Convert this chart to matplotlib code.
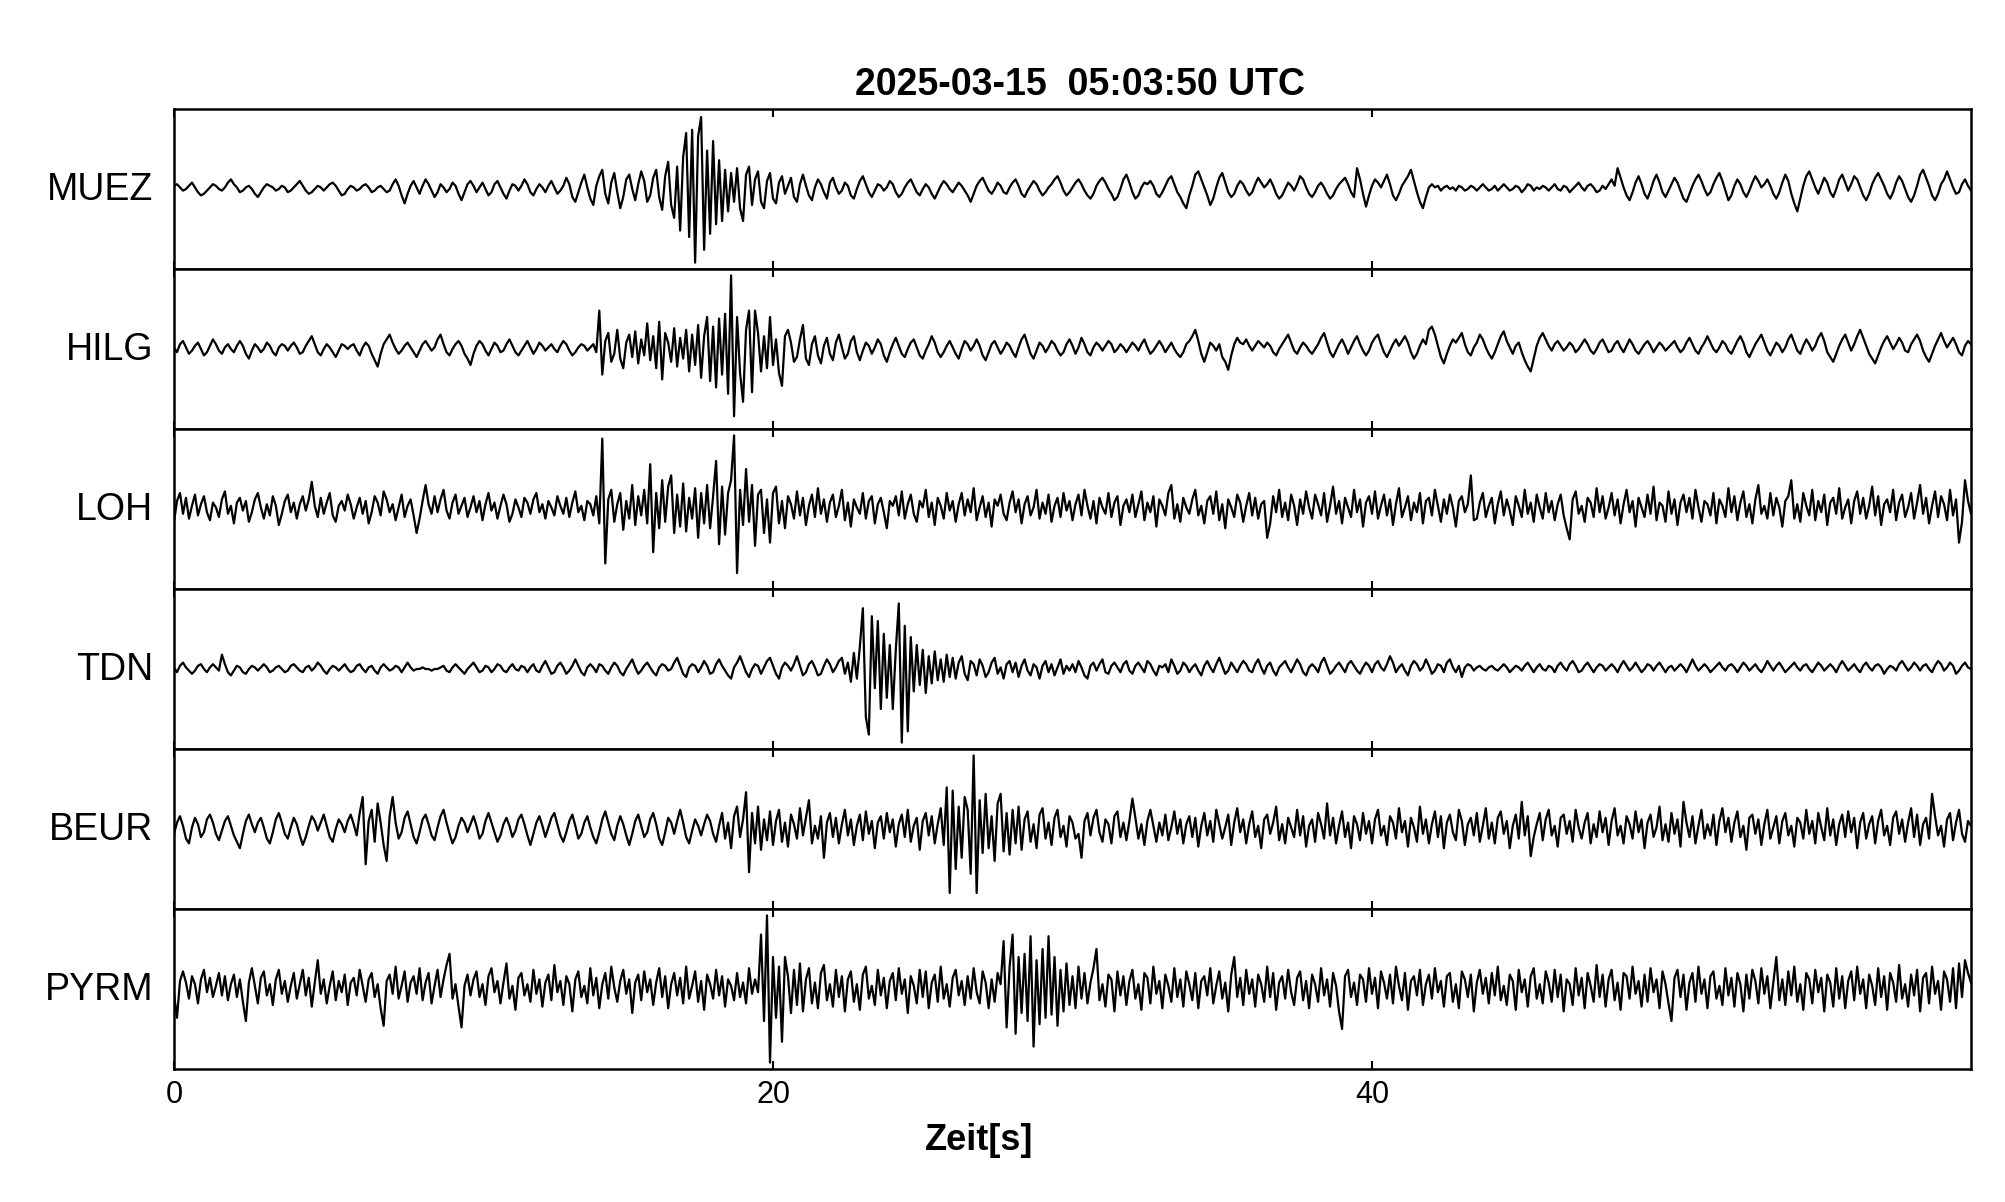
import numpy as np
import matplotlib
matplotlib.use("Agg")
import matplotlib.pyplot as plt

# Seismogram traces, 10 samples per second, amplitude in panel units (+-50 = panel edge)
TITLE = "2025-03-15  05:03:50 UTC"
XLABEL = "Zeit[s]"
T_END = 60.0
XTICKS = [0, 20, 40]

MUEZ = [
    2, 3, 1, -1, 0, 2, 4, 1, -2, -4, -3, -1, 1, 3, 2, 0, -1, 1, 4, 6,
    3, 1, -2, -1, 1, 2, 0, -3, -5, -2, 1, 3, 2, 1, -1, 0, 2, 1, -2, -1,
    1, 3, 5, 2, -1, -3, -2, 0, 2, 1, -1, 1, 3, 4, 2, -1, -4, -3, 0, 2,
    1, -1, 0, 2, 3, 1, -2, -1, 1, 2, 0, -2, -1, 3, 6, 2, -4, -9, -3, 2,
    5, 1, -3, 2, 6, 3, -1, -5, -2, 3, 1, -2, 0, 4, 2, -3, -7, -2, 3, 5,
    2, -2, 1, 4, 0, -4, -2, 3, 5, 1, -3, -6, -1, 3, 2, -1, 2, 6, 3, -2,
    -4, 0, 3, 1, -2, 2, 5, 1, -3, -1, 2, 7, 3, -5, -8, -2, 4, 9, 1, -6,
    -10, 2, 8, 12, -3, -9, 4, 10, -2, -12, -5, 6, 9, 0, -7, 3, 11, 5, -8, -4,
    7, 12, -5, -13, 8, 17, -10, -18, 14, -26, 20, 35, -30, 37, -46, 33, 45, -38, 24, -28,
    30, -22, 18, -20, 12, -14, 10, -8, 13, -12, -20, 9, 14, -10, 6, 11, -8, -12, 5, 10,
    -6, -9, 4, 8, -3, 2, 7, -5, -8, 3, 9, 2, -4, -7, 1, 6, 3, -2, -6, 4,
    7, 1, -3, -1, 4, 2, -4, -6, 0, 5, 8, 3, -2, -5, -1, 3, 2, -1, 1, 5,
    3, -2, -5, -3, 1, 4, 6, 2, -2, -4, 0, 3, 1, -3, -6, -2, 2, 5, 3, 0,
    -2, 1, 4, 2, -1, -4, -8, -3, 2, 5, 7, 3, -1, -3, 0, 4, 2, -2, -3, 1,
    4, 6, 2, -3, -5, -1, 2, 5, 3, -1, -4, -2, 1, 3, 6, 8, 4, -1, -4, -2,
    1, 4, 6, 3, -1, -4, -6, -3, 2, 5, 7, 4, 0, -3, -7, -5, 0, 6, 9, 4,
    -2, -6, -4, 1, 4, 3, 5, 2, -3, -5, -2, 2, 6, 8, 3, -2, -5, -9, -12, -4,
    2, 9, 11, 6, 1, -4, -10, -6, 1, 7, 10, 4, -2, -5, -3, 2, 5, 3, -1, -4,
    -2, 3, 7, 4, 1, 3, 6, 2, -3, -6, -4, 0, 4, 2, -1, 3, 8, 6, 1, -3,
    -5, -2, 2, 4, 1, -3, -6, -4, 0, 3, 5, 7, 3, -2, -5, 13, 6, -3, -11, -4,
    2, 6, 4, 1, 5, 9, 3, -4, -7, -3, 2, 5, 8, 12, 5, -2, -8, -12, -5, 1,
    3, 1, 2, -1, 1, 2, 0, 1, -1, 2, 1, -1, 0, 2, 1, -1, 1, 3, 1, -1,
    0, 2, -1, 1, 3, 1, -1, 0, 2, 1, -2, 0, 3, 2, -1, 1, 0, 2, 1, -1,
    1, 3, 0, -1, 2, 1, -2, 0, 2, 4, 1, -1, 2, 3, 1, -2, -1, 2, 0, 3,
    6, 2, 13, 7, 1, -4, -7, -2, 4, 8, 3, -3, -6, -1, 5, 9, 4, -2, -5, -1,
    3, 7, 4, -1, -6, -8, -3, 2, 6, 9, 5, 0, -4, -2, 3, 7, 10, 5, -1, -7,
    -4, 2, 6, 3, -2, -5, -1, 4, 8, 5, 1, 3, 6, 2, -3, -6, -2, 4, 9, 5,
    -3, -9, -14, -6, 2, 8, 11, 6, 1, -3, 2, 7, 4, -2, -5, 0, 6, 9, 4, -1,
    3, 8, 6, 1, -4, -7, -3, 3, 7, 10, 6, 2, -3, -6, -2, 4, 8, 5, 0, -5,
    -8, -4, 2, 9, 12, 7, 2, -4, -7, -3, 3, 6, 11, 6, 1, -3, -2, 3, 6, 2, -1,
]

HILG = [
    1, -2, 3, 5, 1, -3, -1, 2, 4, 0, -4, -2, 2, 6, 3, -1, -3, 1, 3, 0,
    -2, 2, 5, 2, -3, -6, -1, 3, 1, -2, 0, 4, 2, -2, -4, 1, 3, 2, -1, 2,
    4, 1, -3, -2, 2, 5, 8, 3, -2, -4, 0, 3, 1, -2, -5, -1, 3, 2, 0, 2,
    3, -1, -4, 1, 4, 2, -3, -7, -11, -3, 3, 6, 9, 4, 0, -3, -1, 2, 4, 1,
    -2, -5, -1, 3, 5, 2, -1, 1, 6, 9, 3, -2, -4, 0, 3, 5, 2, -3, -6, -10,
    -3, 2, 5, 3, -1, -4, 0, 4, 2, -2, -1, 3, 6, 2, -2, -4, -1, 2, 5, 1,
    -3, 0, 4, 2, -1, 1, 3, 0, -2, 2, 5, 3, -1, -4, -2, 1, 3, 2, -1, 1,
    3, -2, 24, -16, 5, 10, -8, -3, 12, -6, -12, 4, 9, -5, 11, -9, 6, -4, 16, -7,
    8, -12, 17, -19, 10, 4, -8, 13, -11, 7, -6, 12, -14, 9, -10, 15, -18, 8, 20, -20,
    14, -24, 19, -16, 22, -28, 46, -42, 20, -15, -33, 12, 24, -27, 24, 10, -14, 8, -12, 20,
    -10, 6, -15, -23, 8, 12, 4, -8, -5, 6, 15, -6, -10, 3, 8, -4, -9, 2, 7, -3,
    -7, 4, 9, 1, -6, -3, 5, 8, -2, -7, -1, 4, 2, -3, 1, 6, 3, -4, -8, -2,
    3, 7, 2, -3, -5, 0, 4, 6, 1, -4, -6, -1, 3, 8, 4, -2, -5, -2, 2, 5,
    1, -3, -6, 0, 5, 3, -1, 2, 6, 2, -4, -7, -2, 3, 5, 1, -3, 0, 4, 2,
    -2, -5, 1, 6, 9, 3, -3, -6, -1, 4, 2, -2, 1, 5, 3, -1, -4, -2, 3, 6,
    2, -3, 1, 7, 3, -2, -4, 1, 4, 2, -1, 2, 5, 3, -2, 0, 3, 1, -2, 1,
    4, 2, -1, 3, 6, 1, -3, -1, 2, 5, 2, -2, 1, 4, 0, -3, -5, -2, 3, 5,
    8, 12, 5, -3, -8, -2, 4, 2, -1, 3, -5, -8, -13, -4, 3, 7, 4, 3, 6, 2,
    -1, 2, 5, 3, 1, 4, 2, -2, -4, 0, 3, 6, 9, 4, -1, -3, 1, 4, 2, -1,
    -3, 0, 3, 7, 10, 4, -2, -5, -1, 3, 6, 2, -3, 1, 5, 8, 3, -1, -4, -1,
    4, 7, 9, 3, -2, -5, -1, 3, 6, 2, 5, 8, 4, -2, -6, -3, 2, 6, 3, 12,
    14, 9, 2, -5, -9, -3, 2, 6, 4, 7, 10, 3, -2, -4, 1, 4, 9, 6, 1, -3,
    -6, -2, 3, 8, 11, 5, 1, -3, 2, 4, -2, -7, -11, -14, -6, 2, 7, 10, 6, 2,
    -1, 3, 5, 2, -1, 1, 4, 2, -2, 0, 3, 6, 3, -1, -3, 0, 4, 6, 2, -2,
    -1, 3, 5, 1, -2, 2, 6, 3, -1, -3, 0, 3, 5, 2, -2, 1, 4, 2, -1, 1,
    3, 5, 1, -2, 0, 4, 7, 3, -1, -3, 1, 4, 8, 4, 0, -2, 1, 5, 3, -1,
    -3, 1, 5, 8, 4, -2, -5, -1, 3, 6, 9, 4, -1, -4, 0, 4, 2, -2, 1, 6,
    9, 4, -1, -3, 2, 6, 3, -1, 2, 7, 10, 5, -2, -5, -8, -3, 2, 6, 9, 4,
    -1, 3, 8, 12, 7, 2, -3, -6, -9, -4, 1, 5, 8, 4, 0, 3, 7, 4, -1, -2,
    3, 6, 9, 5, -1, -5, -8, -3, 2, 6, 10, 5, 1, 4, 7, 3, -2, -4, 2, 5, 3,
]

LOH = [
    -8, 5, 10, -3, 7, -6, 2, 9, -4, 3, 8, -2, -7, 4, 1, -5, 6, 11, -3, 2,
    -9, 4, 7, -1, 5, -8, -2, 6, 10, 1, -6, 3, -4, 8, 2, -10, -3, 5, 9, -2,
    4, -6, 3, 8, -1, 6, 17, 2, -5, 7, -3, 4, 10, -4, -8, 2, 5, -1, 9, 3,
    -6, 1, 7, -3, 5, -9, -2, 8, 4, -4, 11, 6, -2, 3, -7, 1, 9, -5, 2, 6,
    -4, -15, -6, 5, 15, 3, -3, 8, -2, 6, 12, -1, -6, 4, 9, -3, 2, 7, -5, 1,
    8, -2, 5, -7, 3, 10, -1, 4, -6, 2, 9, 3, -8, -3, 6, 1, -5, 7, 4, -3,
    6, 10, -2, 3, -6, 5, 1, -4, 8, 2, -3, 7, -5, 4, 11, -2, 2, -7, 5, 3,
    -4, 8, -9, 44, -34, 6, 12, -8, 3, 10, -13, 5, -6, 15, -10, 8, -4, 12, -9, 28,
    -27, 10, -12, 18, -8, 14, 21, -15, 9, -11, 16, -14, 7, -6, 13, -18, 10, -9, 15, -12,
    8, 30, -22, 14, -16, 10, 18, 46, -40, 12, -10, 25, -8, 15, -23, 9, 12, -15, 6, -21,
    10, 14, -9, 5, -12, 8, 3, -6, 11, -4, 7, -10, 2, 9, -5, 13, -3, 6, -8, 4,
    9, -5, 2, 12, -7, 4, -11, 6, 1, -3, 10, -6, 5, 8, -9, 3, 7, -2, -12, 5,
    2, 8, -4, 11, -6, 3, 9, -3, -8, 5, 1, 12, -5, 4, -10, 7, 2, -6, 10, -1,
    5, -8, 3, 10, -4, 6, -2, 13, -7, 1, 8, -5, 4, -11, 6, 2, 9, -3, -7, 4,
    11, -2, 6, -9, 3, 8, -4, 1, 12, -6, 4, -3, 9, -8, 2, 7, -5, 10, -1, 5,
    -7, 3, 9, -4, 12, 2, -6, 5, -9, 7, 1, -3, 10, -5, 4, 8, -10, 2, 6, -2,
    9, -5, 3, 11, -7, 4, -2, 8, -11, 6, 2, -4, 10, 15, -6, 3, -8, 7, 1, -3,
    6, 12, -4, 2, -9, 5, 8, -3, 11, -7, 3, -12, 6, 1, -5, 9, 4, -8, 2, 10,
    -4, 7, -6, 3, 5, -18, -9, 8, -2, 12, -5, 4, -7, 9, 2, -10, 6, -3, 11, 1,
    -6, 9, 3, -4, 10, -8, 2, 14, -3, 5, -9, 7, 1, -5, 12, -2, 6, -11, 4, 8,
    -3, 11, -6, 2, 9, -4, 6, -10, 3, 13, -5, 1, 8, -7, 4, -2, 10, -9, 5, 7,
    -4, 12, 2, -8, 6, -3, 9, 1, -11, 5, 8, -2, 3, 21, -7, -6, 4, 10, -5, 2,
    7, -9, 3, 11, -4, 6, -1, -10, 8, 2, -5, 12, -3, 4, -8, 9, 1, -6, 10, -2,
    5, -7, 3, 9, -4, -12, -19, 6, 11, -3, 2, -8, 7, 4, -5, 13, -2, 8, -6, 1,
    10, -4, 6, -9, 3, 12, -2, 5, -11, 7, 1, -5, 9, -3, 14, -7, 4, 2, -8, 11,
    -3, 6, -10, 4, 9, -2, 7, -6, 12, 1, -8, 5, 3, -4, 10, -9, 6, 2, -5, 13,
    -2, 8, -7, 4, 11, -5, 3, -9, 6, 15, -3, 2, -6, 10, -4, 7, 1, -11, 5, 8,
    18, -6, 3, -8, 10, 2, -4, 12, -7, 5, -2, 9, -10, 4, 7, -3, 13, -6, 1, 6,
    -9, 5, 11, -3, 7, -6, 2, 14, -4, 8, -10, 3, 6, -2, 12, -7, 4, 9, -5, 1,
    10, -6, 4, 15, -3, 7, -9, 2, 11, -5, 8, 3, -7, 12, -4, 6, -21, -8, 18, 5, -3,
]

TDN = [
    1, -2, 2, 4, 1, -1, -3, -1, 2, 3, 0, -2, 1, 3, 1, -1, 9, 3, -2, -4,
    -1, 2, 1, -2, -3, 0, 2, 1, -1, 1, 3, 1, -2, -1, 1, 2, 0, -2, -1, 2,
    3, 1, -1, -2, 1, 2, -1, 1, 4, 2, -1, -3, 0, 2, 1, -1, 1, 3, 0, -2,
    -1, 2, 3, 0, -2, 1, 2, -1, -3, 1, 3, 1, -1, 0, 2, 1, -2, 1, 4, 1,
    -1, 0, 0, 1, 0, 0, -1, 0, 0, 1, 2, -1, -2, 1, 3, 1, -1, -3, 0, 2,
    4, 1, -2, -1, 2, 1, -2, 0, 3, 2, -1, -2, 1, 3, 0, -1, 2, 1, -2, 1,
    3, -1, -2, 2, 5, 1, -3, -2, 2, 4, 1, -3, -1, 2, 6, 2, -2, -4, 1, 3,
    1, -2, 3, 2, -1, -3, 1, 4, 2, -2, -4, 0, 3, 6, 1, -3, -1, 2, 4, 1,
    -2, -4, 1, 3, 2, -1, 0, 4, 7, 2, -3, -5, 1, 3, 2, -2, 1, 5, 2, -3,
    -2, 3, 6, 2, -1, -4, -6, 1, 4, 8, 3, -2, -5, 0, 3, 2, -3, 1, 5, 7,
    2, -3, -6, 1, 4, 2, -1, 3, 8, 2, -4, -2, 3, 5, 1, -4, -3, 2, 6, 3,
    -2, 1, 5, 7, -3, 4, -8, 10, -6, 14, 38, -30, -41, 33, -12, 30, -25, 22, -18, 15,
    -25, 12, 41, -46, 27, -39, 20, -14, 15, -10, 12, -15, 8, -9, 11, -7, 6, -8, 9, -5,
    7, -6, 4, 8, -3, -7, 5, 3, -4, 6, 2, -5, -2, 4, 7, -3, 1, -6, 3, 5,
    -2, 4, -5, 2, 6, -1, -4, 3, 1, -6, 2, 5, -2, 3, -4, 1, 6, -3, 2, -1,
    3, -2, 5, 1, -4, -6, 2, 4, -1, 3, 6, -2, -3, 2, 4, 1, -2, 3, 5, -1,
    -3, 2, 4, 1, -2, 5, 3, -1, -4, 2, 1, 3, -2, 6, 2, -3, -1, 4, 2, -2,
    1, 3, -1, -4, 2, 5, 1, -2, 3, 7, 2, -3, -1, 4, 1, -2, 2, 5, 3, -1,
    -2, 3, 6, 1, -3, 2, 4, -1, -4, 1, 3, 5, 1, -2, 2, 6, 3, -2, -4, 1,
    3, 1, -2, 4, 7, 2, -3, -1, 2, 4, 1, -2, 3, 5, 2, -1, -3, 1, 4, 2,
    -2, 3, 5, 1, -1, 3, 8, 4, -2, 1, 3, -1, -4, 2, 5, 3, -1, 1, 6, 2,
    -3, -1, 3, 2, -2, 4, 6, 1, -2, 2, -5, 1, 3, 2, -1, 1, 2, 0, -1, 1,
    2, 0, -1, 1, 3, 1, -2, 0, 2, 1, -1, 2, 4, 1, -2, 1, 3, 0, -1, 2,
    1, -2, 2, 4, 1, -1, 3, 5, 2, -2, -1, 2, 4, 1, -2, 1, 3, 2, -1, 1,
    3, 1, -2, 2, 5, 2, -1, 1, 4, 1, -2, 0, 3, 2, -1, 2, 4, 1, -2, 1,
    2, -1, 1, 3, 1, -2, 2, 6, 2, -1, 1, 3, 1, -2, 0, 2, 4, 1, -1, 2,
    3, 1, -2, 1, 4, 2, -1, 1, 3, 0, -2, 1, 5, 2, -1, 2, 4, 1, -2, 0,
    2, 4, 1, -1, 2, 3, 0, -2, 1, 4, 2, -1, 1, 3, 1, -2, 2, 5, 2, -1,
    1, 3, 0, -2, 2, 4, 1, -1, 2, 3, 1, -3, 0, 2, 1, -1, 3, 5, 2, -1,
    1, 4, 2, -1, 2, 3, 0, -2, 2, 5, 3, -1, 1, 4, 2, -3, -1, 2, 4, 1, 0,
]

BEUR = [
    -3, 4, 8, 2, -6, -9, 1, 7, 3, -5, -2, 6, 9, 4, -3, -7, -1, 5, 8, 2,
    -4, -8, -12, -3, 5, 9, 3, -2, 4, 7, 1, -6, -9, -2, 6, 10, 4, -3, -6, 1,
    7, 3, -4, -10, -5, 2, 8, 5, -1, 4, 9, 2, -5, -8, 0, 6, 3, -2, 5, 9,
    3, -4, 10, 20, -22, 5, 12, -8, 16, 4, -10, -20, 8, 20, 4, -6, -2, 7, 11, 3,
    -5, -9, -2, 6, 9, 3, -4, -7, 1, 8, 12, 4, -3, -9, -5, 2, 7, 4, -2, 3,
    8, 2, -6, -3, 5, 10, 4, -2, -8, -4, 3, 7, 2, -5, -1, 6, 9, 3, -4, -10,
    -3, 4, 8, 2, -5, 1, 7, 10, 3, -4, -8, -2, 5, 9, 2, -6, -3, 4, 8, 1,
    -5, -9, -2, 6, 11, 4, -3, -7, 2, 8, 3, -4, -10, -3, 5, 9, 2, -5, -2, 6,
    10, 3, -6, -10, -2, 7, 4, -3, 5, 12, 4, -5, -9, -1, 6, 2, -4, 3, 9, 5,
    -3, -8, 2, 10, -6, 4, -12, 8, 14, -5, 6, 23, -27, 10, -9, 14, -13, 6, -7, 11,
    -10, 5, 12, -8, 4, -11, 9, 3, -6, 13, -4, 7, 18, -9, 2, -6, 8, -18, 4, 10,
    -5, 7, -9, 3, 12, -4, 6, -10, 2, 9, -7, 11, -3, 5, -12, 4, 8, -6, 10, -2,
    6, -11, 3, 9, -5, 12, -8, 2, 7, -13, 5, 10, -4, 8, -9, 3, 13, -10, 26, -40,
    24, -25, 14, -18, 20, 12, -28, 46, -40, 18, -15, 22, -12, 8, -20, 16, 22, -14, 10, -16,
    12, -9, 14, -13, 6, 11, -8, 3, -12, 9, 13, -6, 4, -10, 7, 12, -5, 2, -11, 8,
    4, -6, -3, -18, 5, 10, -4, 7, 12, -2, -8, 6, 3, -9, 8, 11, -5, 4, -7, 5,
    19, 7, -6, 3, -10, 5, 12, 2, -8, 4, -4, 9, -7, 1, 11, -3, 6, -9, 3, 8,
    -5, 7, -11, 2, 10, -4, 5, -8, 12, 3, -6, 1, 9, -10, 4, 13, -2, 6, -9, 3,
    11, -5, 2, -12, 6, 9, -3, 4, 14, -7, 3, -9, 7, 1, -5, 12, -4, 8, -11, 2,
    6, -8, 10, 3, -6, 16, -4, 7, -9, 2, 11, -5, 4, -12, 8, 3, -7, 10, -3, 5,
    -9, 6, 12, -4, 2, -10, 8, 4, -6, 13, -2, 5, -11, 7, 1, -8, 14, -3, 6, -9,
    3, 11, -5, 8, -12, 4, 9, -2, -7, 12, 5, -10, 3, 7, -4, 10, -8, 2, 13, -6,
    4, -9, 7, 11, -3, 5, -12, 2, 9, -6, 17, -4, 8, -17, -5, 3, 10, -7, 6, 12,
    -4, 2, -11, 7, 9, -3, 5, -8, 12, 1, -6, 4, 10, -9, 3, -5, 11, -2, 7, -10,
    5, 13, -4, 2, -9, 8, 3, -6, 11, -2, 6, -12, 4, 9, -5, 1, 14, -7, 3, -8,
    10, -3, 6, -11, 17, 4, -5, 8, -9, 2, 12, -6, 3, -4, 9, -10, 5, 13, -2, 7,
    -8, 4, 11, -5, 2, -13, 7, 9, -3, 6, -10, 3, 12, -6, 1, 8, -9, 5, 10, -4,
    2, -11, 7, 4, -6, 12, -3, 5, -9, 10, 1, -7, 13, -4, 6, -10, 3, 9, -5, 11,
    -2, 7, -12, 4, 10, -6, 3, 8, -9, 5, 12, -4, 2, -10, 7, 11, -3, 6, -8, 4,
    13, -5, 9, -10, 3, 7, -6, 22, 8, -4, 2, -11, 6, 10, -7, 4, 12, -3, -8, 5, 2,
]

PYRM = [
    -3, -18, 5, 11, 4, -6, 8, 3, -9, 6, 12, -2, 7, -5, 2, 10, -4, 8, -7, 3,
    9, -5, 6, -8, -20, 4, 13, 2, -9, 7, 11, -4, 3, -10, 6, 12, -3, 5, -8, 2,
    10, -6, 3, 12, -4, 7, -11, 4, 18, -3, 6, -9, 2, 11, -7, 5, -2, 9, -10, 4,
    7, -4, 12, 2, -8, 6, 10, -5, 3, -12, -23, 5, 9, -3, 14, -6, 2, 11, -8, 4,
    8, -3, 13, -7, 4, 10, -9, 2, 12, -5, 6, 15, 22, -6, 3, -11, -24, 2, 9, -4,
    6, 11, -5, 3, -10, 8, 13, -2, 5, -9, 4, 16, -6, 2, -13, 7, 10, -4, 3, -8,
    12, -3, 6, -11, 4, 9, -7, 15, -2, 5, -10, 8, 3, -14, 6, 11, -5, 2, -9, 13,
    -4, 7, -12, 3, 10, -6, 14, 1, -8, 5, 12, -3, 6, -15, 4, 9, -7, 11, -2, 6,
    -10, 4, 13, -5, 8, -12, 3, 10, -4, 7, -9, 14, -6, 2, 11, -8, 5, -13, 9, 3,
    -6, 12, -4, 8, -11, 6, 2, -7, 10, -5, 4, -9, 13, -3, 6, -2, 34, -20, 46, -46,
    20, -18, 14, -33, 20, 8, -15, 12, -10, 16, -14, 6, 13, -9, 4, -12, 10, 15, -7, 3,
    -11, 12, -5, 8, -14, 6, 11, -8, 3, -13, 9, 14, -6, 2, -10, 12, -4, 7, -12, 5,
    10, -7, 13, -3, 6, -15, 8, 2, -9, 12, -5, 11, -12, 4, 9, -8, 14, -6, 3, -11,
    7, 12, -4, 5, -10, 8, -6, 13, -2, -9, 11, 4, -12, 6, -8, 10, 3, 30, -24, 14,
    34, -28, 20, -15, 22, -20, 33, -36, 18, -22, 25, -18, 33, -16, 20, -23, 12, -14, 16, -10,
    8, -12, 14, -6, 10, -9, 4, 13, 25, -7, 3, -11, 9, 6, -14, 11, -4, 8, -10, 5,
    12, -6, 3, -13, 10, 7, -9, 14, -3, 5, -12, 9, 2, -8, 13, -5, 6, -11, 11, 3,
    -7, 10, -12, 5, 8, -4, 13, -9, 2, 11, -6, 4, -14, 9, 20, -5, 7, -10, 12, -3,
    6, -11, 9, 3, -8, 14, -5, 10, -13, 4, 8, -6, 12, -2, -10, 7, 11, -7, 5, -12,
    9, 3, -8, 13, -4, 6, -11, 10, 2, -14, -25, 8, 12, -5, 4, -10, 9, 6, -8, 13,
    -3, 7, -12, 11, 4, -6, 9, -9, 14, 2, -7, 10, -13, 5, 8, -4, 12, -10, 3, 9,
    -6, 13, -2, 5, -11, 8, 10, -8, 3, -12, 11, 6, -5, 9, -14, 4, 12, -3, 7, -9,
    10, -4, 14, -7, 2, -10, 9, 5, -13, 12, -2, 6, -11, 8, 13, -6, 3, -9, 11, 4,
    -8, 12, -5, 9, -14, 6, 3, -10, 13, -4, 7, -12, 10, 2, -8, 15, -5, 9, -11, 6,
    12, -7, 4, -13, 10, 8, -6, 14, -3, 5, -11, 9, -8, 13, -2, 6, -12, 11, 3, -9,
    -20, 7, 12, -5, 9, -13, 4, 10, -8, 14, -3, 6, -12, 8, 11, -6, 2, -10, 13, -4,
    7, -11, 10, 3, -14, 9, -6, 12, 5, -9, 13, -3, 8, -12, 4, 20, -7, 6, -10, 11,
    -4, 14, -8, 3, -13, 10, 6, -9, 12, -2, 7, -14, 9, 4, -11, 13, -6, 8, -12, 5,
    11, -7, 14, -3, 6, -12, 9, 2, -10, 13, -5, 8, -13, 10, 4, -8, 15, -6, 3, -11,
    9, -4, 12, -14, 7, 10, -9, 14, -3, 5, -13, 11, 6, -8, 13, -12, 16, -5, 18, 10, 4,
]

stations = ["MUEZ", "HILG", "LOH", "TDN", "BEUR", "PYRM"]
traces = [MUEZ, HILG, LOH, TDN, BEUR, PYRM]

plt.rcParams['font.family'] = ['Liberation Sans', 'DejaVu Sans']

fig = plt.figure(figsize=(20.05, 12.02), dpi=100)
left, right = 174 / 2005, 1971 / 2005
top, bottom = 1 - 109 / 1202, 1 - 1069 / 1202
n = len(stations)
h = (top - bottom) / n

axes = []
for i, (name, vals) in enumerate(zip(stations, traces)):
    ax = fig.add_axes([left, top - (i + 1) * h, right - left, h])
    t = np.linspace(0, T_END, len(vals))
    ax.plot(t, vals, color='black', lw=1.6)
    ax.set_xlim(0, T_END)
    ax.set_ylim(-50, 50)
    ax.set_yticks([])
    ax.set_xticks(XTICKS)
    ax.tick_params(axis='x', direction='in', top=True, length=6, width=1.5,
                   labelsize=22, pad=8)
    for sp in ax.spines.values():
        sp.set_linewidth(1.8)
    if i < n - 1:
        ax.tick_params(axis='x', labelbottom=False)
    ax.annotate(name, xy=(0, 0.5), xycoords='axes fraction',
                xytext=(-15, -1), textcoords='offset points',
                ha='right', va='center', fontsize=27)
    axes.append(ax)

axes[0].set_title(TITLE, fontsize=27, fontweight='bold', pad=10, x=0.504)
axes[-1].set_xlabel(XLABEL, fontsize=26, fontweight='bold', labelpad=9, x=0.448)

fig.savefig("out.png", dpi=100)
